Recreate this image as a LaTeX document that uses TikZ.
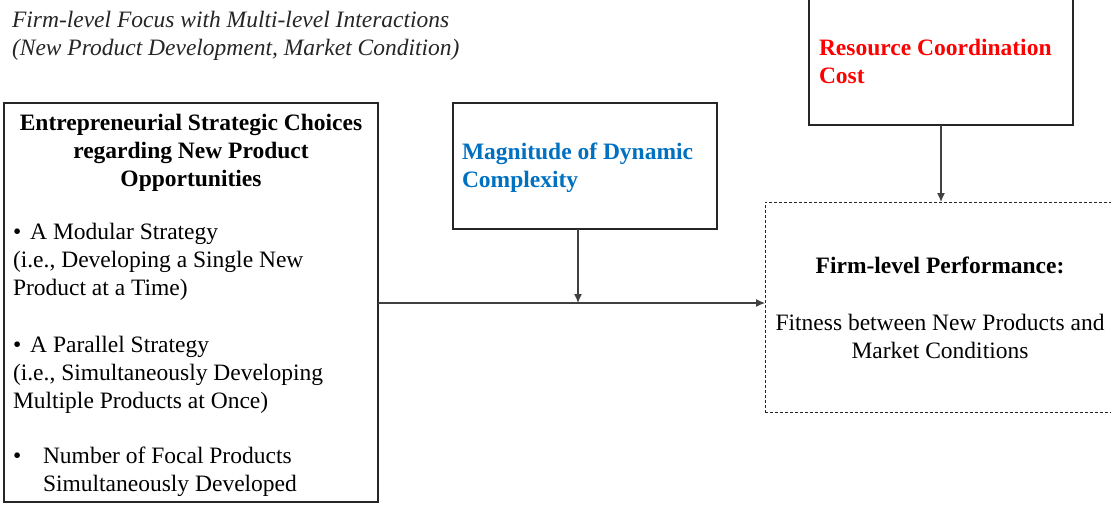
\documentclass[tikz,border=0pt]{standalone}
\usepackage{fontspec}
\setmainfont{Liberation Serif}
\usetikzlibrary{positioning,arrows.meta}
\definecolor{dynblue}{RGB}{0,112,192}
\definecolor{costred}{RGB}{255,0,0}
\AtBeginDocument{\fontsize{11.75}{14}\selectfont}

\begin{document}
\begin{tikzpicture}[x=0.5pt,y=-0.5pt,
  every node/.style={inner sep=0pt, outer sep=0pt},
  box/.style={draw=black!85, line width=0.6pt, anchor=north west},
  dashbox/.style={draw=black!85, line width=0.5pt, dash pattern=on 1.5pt off 1pt, anchor=north west},
  txt/.style={anchor=base west, align=left},
  ctr/.style={anchor=base, align=center},
  link/.style={draw=black!75, line width=0.6pt, -{Latex[length=4.5pt,width=4pt]}}]
\useasboundingbox (0,0) rectangle (1111,504);

% heading (base = last line)
\node [txt, font=\itshape, text=black!85] (head) at (12,55)
  {Firm-level Focus with Multi-level Interactions\\(New Product Development, Market Condition)};

% boxes
\node [box, minimum width=187pt, minimum height=199.5pt] (choices) at (4,103) {};
\node [box, minimum width=132pt, minimum height=63pt] (magn) at (453,103) {};
\node [box, minimum width=132pt, minimum height=65pt] (cost) at (809,-5) {};
\node [dashbox, minimum width=175.5pt, minimum height=105pt] (perf) at (765,202) {};

% choices text
\node [ctr, font=\bfseries] (choicestitle) at (191,186)
  {Entrepreneurial Strategic Choices\\regarding New Product\\Opportunities};
\node [txt] (modular) at (13,295)
  {\textbullet\hspace{4.5pt}A Modular Strategy\\(i.e., Developing a Single New\\Product at a Time)};
\node [txt] (parallel) at (13,408)
  {\textbullet\hspace{4.5pt}A Parallel Strategy\\(i.e., Simultaneously Developing\\Multiple Products at Once)};
\node [txt] (dot) at (13,463) {\textbullet};
\node [txt] (focal) at (43,491) {Number of Focal Products\\Simultaneously Developed};

% other texts
\node [txt, font=\bfseries, text=dynblue] (magntext) at (462,187) {Magnitude of Dynamic\\Complexity};
\node [txt, font=\bfseries, text=costred] (costtext) at (819,83) {Resource Coordination\\Cost};
\node [ctr, font=\bfseries] (perftitle) at (940,273) {Firm-level Performance:};
\node [ctr] (perftext) at (940,358) {Fitness between New Products and\\Market Conditions};

% connectors
\coordinate (join) at (578,303);
\draw [link] (choices.east |- join) -- (perf.west |- join);
\draw [link] (join |- magn.south) -- (join);
\draw [link] (cost.south) -- (cost.south |- perf.north);
\end{tikzpicture}
\end{document}
